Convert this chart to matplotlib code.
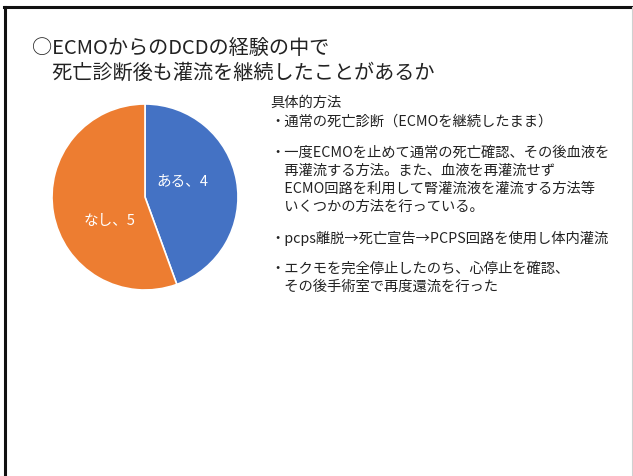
import matplotlib
matplotlib.use('Agg')
import matplotlib.pyplot as plt
from matplotlib.lines import Line2D

plt.rcParams['font.family'] = ['Noto Sans CJK JP', 'DejaVu Sans']

# Data
labels = ['ある', 'なし']
counts = [4, 5]
colors = ['#4472C4', '#ED7D31']

title_lines = ['○ECMOからのDCDの経験の中で',
               '　死亡診断後も灌流を継続したことがあるか']
methods_header = '具体的方法'
methods = [
    ['・通常の死亡診断（ECMOを継続したまま）'],
    ['・一度ECMOを止めて通常の死亡確認、その後血液を',
     '　再灌流する方法。また、血液を再灌流せず',
     '　ECMO回路を利用して腎灌流液を灌流する方法等',
     '　いくつかの方法を行っている。'],
    ['・pcps離脱→死亡宣告→PCPS回路を使用し体内灌流'],
    ['・エクモを完全停止したのち、心停止を確認、',
     '　その後手術室で再度還流を行った'],
]

W, H = 633, 477
fig = plt.figure(figsize=(W / 100, H / 100), dpi=100)
fig.patch.set_facecolor('white')

def fx(px):
    return px / W

def fy(py):
    return 1 - py / H

# slide border
fig.add_artist(Line2D([fx(4), fx(633)], [fy(7.5), fy(7.5)], color='#111111', lw=2.2))
fig.add_artist(Line2D([fx(4.5), fx(4.5)], [fy(7.5), fy(477)], color='#111111', lw=2.2))
fig.add_artist(Line2D([fx(631.5), fx(631.5)], [fy(8), fy(477)], color='#d0d0d0', lw=0.8))

# title
fig.text(fx(32), fy(48), title_lines[0], fontsize=14.5, color='#222222', va='center')
fig.text(fx(32), fy(73), title_lines[1], fontsize=14.5, color='#222222', va='center')

# pie
cx, cy, r = 145, 198, 93
ax = fig.add_axes([fx(cx - r), fy(cy + r), (2 * r) / W, (2 * r) / H])
wedges, _ = ax.pie(counts, colors=colors, startangle=90, counterclock=False,
                   radius=1, wedgeprops=dict(edgecolor='white', linewidth=1.2))
ax.set_xlim(-1, 1)
ax.set_ylim(-1, 1)
ax.set_aspect('equal')
ax.axis('off')
ax.text(0.40, 0.17, f'{labels[0]}、{counts[0]}', color='white', fontsize=10.5,
        ha='center', va='center')
ax.text(-0.38, -0.25, f'{labels[1]}、{counts[1]}', color='white', fontsize=10.5,
        ha='center', va='center')

# methods text
fs = 10.3
fig.text(fx(270), fy(103), methods_header, fontsize=fs, color='#222222', va='center')
y = 122
for block in methods:
    for line in block:
        fig.text(fx(270), fy(y), line, fontsize=fs, color='#222222', va='center')
        y += 18
    y += 13

fig.savefig('out.png', dpi=100, facecolor='white')
